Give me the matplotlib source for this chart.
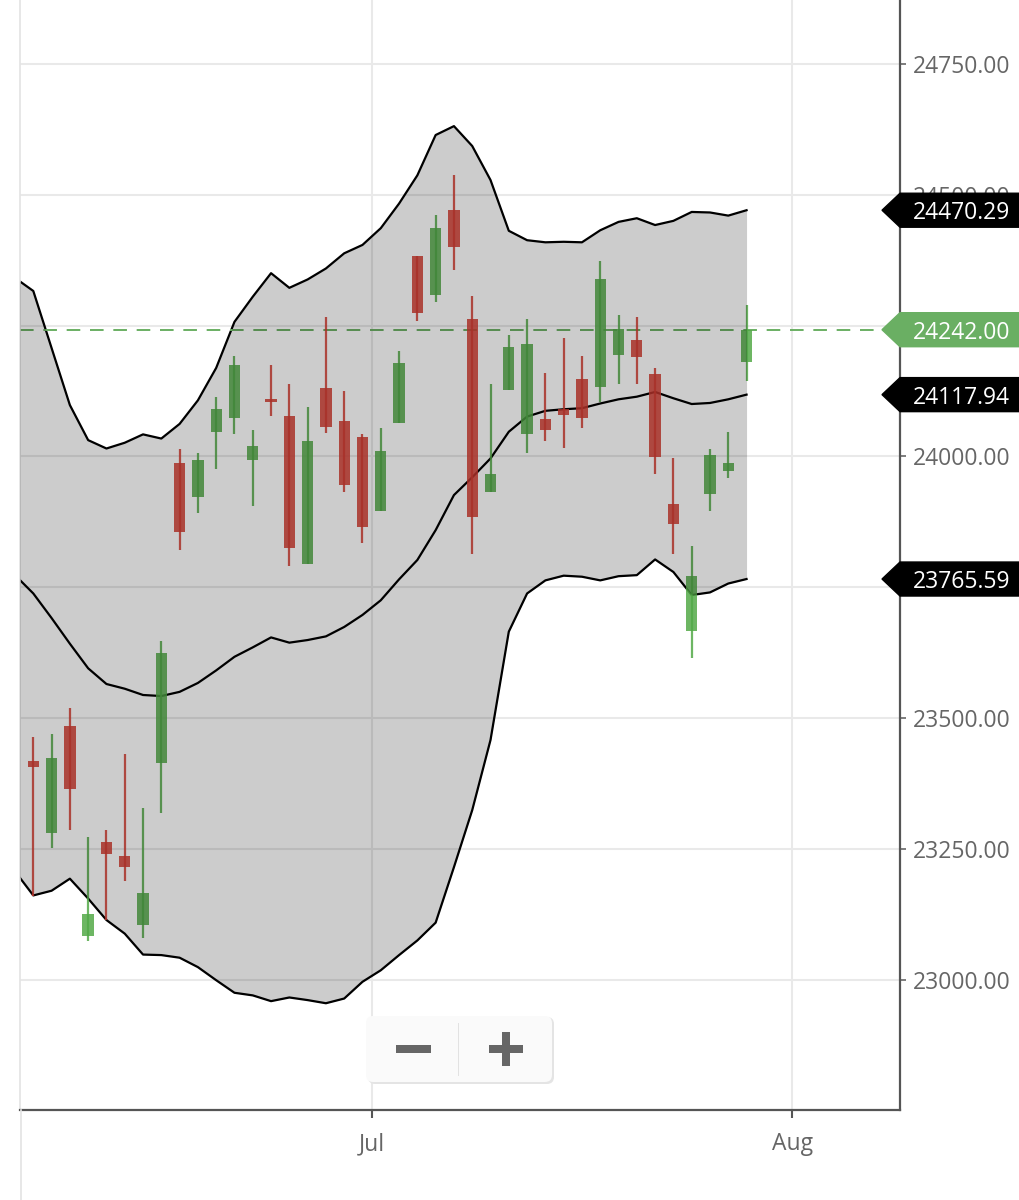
import numpy as np
import matplotlib.pyplot as plt
from matplotlib.patches import Polygon, FancyBboxPatch, Rectangle
from matplotlib.lines import Line2D

plt.rcParams['font.family'] = ['Open Sans', 'DejaVu Sans']

# one candle per trading session
opens = [23418, 23281, 23484, 23083, 23263, 23236, 23104, 23414, 23988, 23923,
         24047, 24074, 23993, 24109, 24077, 23794, 24131, 24068, 24037, 23896,
         24064, 24383, 24308, 24471, 24262, 23932, 24127, 24042, 24072, 24090,
         24147, 24132, 24193, 24222, 24157, 23909, 23667, 23928, 23972, 24180]
highs = [23463, 23470, 23520, 23272, 23286, 23431, 23329, 23647, 24015, 24007,
         24113, 24192, 24050, 24174, 24139, 24095, 24267, 24125, 24042, 24055,
         24201, 24383, 24461, 24537, 24307, 24138, 24232, 24262, 24160, 24227,
         24192, 24373, 24271, 24267, 24168, 23996, 23828, 24015, 24046, 24289]
lows = [23160, 23251, 23286, 23074, 23114, 23189, 23079, 23318, 23821, 23892,
        23976, 24042, 23905, 24077, 23790, 23794, 24044, 23932, 23835, 23896,
        24064, 24259, 24294, 24357, 23813, 23932, 24127, 24007, 24030, 24016,
        24055, 24104, 24139, 24139, 23967, 23813, 23614, 23896, 23959, 24144]
closes = [23406, 23423, 23365, 23125, 23241, 23216, 23166, 23625, 23856, 23993,
          24090, 24174, 24020, 24104, 23825, 24029, 24056, 23945, 23865, 24011,
          24179, 24273, 24436, 24400, 23884, 23966, 24209, 24214, 24051, 24079,
          24074, 24338, 24244, 24189, 23998, 23871, 23771, 24002, 23988, 24242]

# bollinger bands, first value belongs to the session before the window
upper = [24341, 24316, 24207, 24098, 24031, 24015, 24026, 24042, 24034, 24062,
         24107, 24169, 24257, 24305, 24350, 24322, 24338, 24359, 24388, 24404,
         24436, 24483, 24537, 24614, 24631, 24593, 24528, 24431, 24413, 24409,
         24410, 24409, 24432, 24448, 24455, 24442, 24450, 24467, 24466, 24460,
         24470.29]
middle = [23773, 23738, 23691, 23642, 23595, 23565, 23556, 23544, 23542, 23550,
          23567, 23591, 23617, 23635, 23654, 23644, 23649, 23656, 23674, 23697,
          23725, 23765, 23802, 23859, 23926, 23960, 23996, 24047, 24076, 24087,
          24090, 24092, 24101, 24109, 24114, 24123, 24111, 24100, 24102, 24109,
          24117.94]
lower = [23207, 23161, 23170, 23193, 23155, 23114, 23088, 23048, 23047, 23042,
         23024, 22999, 22975, 22970, 22959, 22966, 22961, 22955, 22964, 22996,
         23018, 23047, 23075, 23109, 23215, 23324, 23458, 23665, 23738, 23763,
         23772, 23770, 23763, 23771, 23773, 23803, 23779, 23735, 23740, 23757,
         23765.59]

last_price = closes[-1]
month_pos = [18.5, 41.5]
month_labels = ['Jul', 'Aug']
price_ticks = np.arange(23000, 24751, 250)

UP = '#53aa48'
DOWN = '#d43d33'
LAST = '#6aaf63'
W, H = 1019, 1200

fig = plt.figure(figsize=(W / 100, H / 100), dpi=100)
ax = fig.add_axes([20 / W, 90 / H, 880 / W, 1110 / H])

ox = np.arange(len(opens))
bx = np.arange(-1, len(opens))

for band in (upper, middle, lower):
    ax.plot(bx, band, color='black', lw=1.6, zorder=1.5)

ax.axhline(last_price, color=LAST, lw=1.4, dashes=(7, 5), zorder=1.6)

o = np.array(opens)
c = np.array(closes)
col = np.where(c >= o, UP, DOWN)
ax.vlines(ox, lows, highs, colors=col, lw=1.6, alpha=0.85, zorder=2)
ax.bar(ox, np.abs(c - o), bottom=np.minimum(o, c), width=0.62, color=col,
       alpha=0.85, lw=0, zorder=2)

# band shading sits on top and darkens whatever is inside the band
ax.fill_between(bx, lower, upper, color='black', alpha=0.2, lw=0, zorder=3)

ax.set_xlim(-0.727, 47.39)
ax.set_ylim(22751, 24872)

ax.set_axisbelow(True)
ax.grid(True, color='#e9e9e9', lw=1.5)
ax.yaxis.tick_right()
ax.set_yticks(price_ticks)
# 23750 and 24250 sit under the price tags
ax.set_yticklabels(['' if v in (23750, 24250) else f'{v:.2f}'
                    for v in price_ticks])
ax.set_xticks(month_pos)
ax.set_xticklabels(month_labels)
ax.tick_params(axis='y', length=4, width=1.2, pad=5, colors='#666666',
               labelsize=16.5)
ax.tick_params(axis='x', length=6, width=1.5, pad=10, colors='#555555',
               labelsize=16.5, labelcolor='#666666')
for s in ('bottom', 'right'):
    ax.spines[s].set_color('#555555')
    ax.spines[s].set_linewidth(1.6)
ax.spines['top'].set_visible(False)
ax.spines['left'].set_color('#e3e3e3')
ax.spines['left'].set_linewidth(1.2)


def fx(x):
    return x / W


def fy(y):
    return 1 - y / H


fig.add_artist(Line2D([fx(20.5), fx(20.5)], [fy(1110), 0], color='#e3e3e3',
                      lw=1.2, transform=fig.transFigure))


def price_tag(value, color):
    ydisp = ax.transData.transform((0, value))[1]
    y = H - ydisp
    h = 17
    pts = [(882, y), (900, y - h), (1030, y - h), (1030, y + h), (900, y + h)]
    fig.add_artist(Polygon([(fx(a), fy(b)) for a, b in pts], closed=True,
                           transform=fig.transFigure, color=color, zorder=10))
    fig.text(fx(913), fy(y), f'{value:.2f}', color='white', fontsize=16.5,
             va='center_baseline', ha='left', zorder=11)


for v in (upper[-1], middle[-1], lower[-1]):
    price_tag(v, 'black')
price_tag(last_price, LAST)

# zoom buttons
fig.add_artist(FancyBboxPatch((fx(368), fy(1084)), fx(186), 67 / H,
                              boxstyle='round,pad=0,rounding_size=0.007',
                              mutation_aspect=W / H, transform=fig.transFigure,
                              fc='#e4e4e4', ec='none', zorder=9))
fig.add_artist(FancyBboxPatch((fx(366), fy(1082)), fx(186), 66 / H,
                              boxstyle='round,pad=0,rounding_size=0.007',
                              mutation_aspect=W / H, transform=fig.transFigure,
                              fc='#fafafa', ec='none', zorder=10))
fig.add_artist(Rectangle((fx(457.5), fy(1076)), fx(1.5), 53 / H,
                         transform=fig.transFigure, fc='#e2e2e2', ec='none',
                         zorder=11))
fig.add_artist(Rectangle((fx(396), fy(1053)), fx(35), 8 / H,
                         transform=fig.transFigure, fc='#666666', ec='none',
                         zorder=11))
fig.add_artist(Rectangle((fx(489), fy(1053)), fx(34), 8 / H,
                         transform=fig.transFigure, fc='#666666', ec='none',
                         zorder=11))
fig.add_artist(Rectangle((fx(502), fy(1066)), fx(8), 34 / H,
                         transform=fig.transFigure, fc='#666666', ec='none',
                         zorder=11))

fig.savefig('out.png', dpi=100, facecolor='white')
